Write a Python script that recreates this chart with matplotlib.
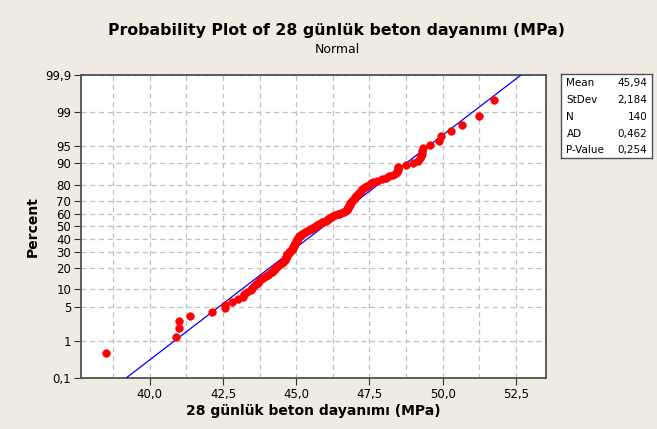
import numpy as np
import matplotlib
matplotlib.use("Agg")
import matplotlib.pyplot as plt
from statistics import NormalDist

# 28-day concrete strength values (MPa), sorted
strength = [
    38.51, 40.90, 40.99, 40.99, 41.38, 42.11, 42.57, 42.57, 42.80, 43.00,
    43.17, 43.23, 43.33, 43.44, 43.50, 43.56, 43.61, 43.68, 43.74, 43.81,
    43.88, 43.97, 44.03, 44.10, 44.17, 44.22, 44.26, 44.29, 44.32, 44.38,
    44.43, 44.50, 44.55, 44.58, 44.62, 44.63, 44.65, 44.66, 44.67, 44.68,
    44.70, 44.74, 44.77, 44.80, 44.84, 44.87, 44.89, 44.90, 44.92, 44.94,
    44.96, 44.97, 44.99, 45.01, 45.03, 45.04, 45.06, 45.08, 45.11, 45.14,
    45.18, 45.21, 45.26, 45.31, 45.37, 45.42, 45.47, 45.52, 45.57, 45.62,
    45.67, 45.72, 45.78, 45.83, 45.88, 45.93, 46.00, 46.05, 46.10, 46.15,
    46.20, 46.27, 46.34, 46.41, 46.47, 46.54, 46.63, 46.68, 46.72, 46.75,
    46.77, 46.78, 46.80, 46.82, 46.83, 46.85, 46.88, 46.92, 46.95, 46.99,
    47.00, 47.01, 47.05, 47.08, 47.12, 47.15, 47.19, 47.22, 47.26, 47.31,
    47.36, 47.43, 47.50, 47.57, 47.63, 47.77, 47.94, 48.08, 48.18, 48.29,
    48.42, 48.45, 48.46, 48.46, 48.46, 48.75, 48.98, 49.17, 49.22, 49.25,
    49.28, 49.30, 49.32, 49.57, 49.86, 49.95, 50.29, 50.66, 51.25, 51.77,
]

mean = 45.94
stdev = 2.184
stat_names = ["Mean", "StDev", "N", "AD", "P-Value"]
stat_values = ["45,94", "2,184", "140", "0,462", "0,254"]

x_ticks = [40.0, 42.5, 45.0, 47.5, 50.0, 52.5]
x_tick_labels = ["40,0", "42,5", "45,0", "47,5", "50,0", "52,5"]
y_ticks = [0.1, 1, 5, 10, 20, 30, 40, 50, 60, 70, 80, 90, 95, 99, 99.9]
y_tick_labels = ["0,1", "1", "5", "10", "20", "30", "40", "50", "60", "70",
                 "80", "90", "95", "99", "99,9"]

nd = NormalDist()
_fwd = np.vectorize(lambda p: nd.inv_cdf(min(max(p / 100.0, 1e-9), 1 - 1e-9)),
                    otypes=[float])
_inv = np.vectorize(lambda z: nd.cdf(z) * 100.0, otypes=[float])


def to_z(p):
    return _fwd(np.asarray(p, dtype=float))


def from_z(z):
    return _inv(np.asarray(z, dtype=float))


n = len(strength)
ranks = np.arange(1, n + 1)
percent = (ranks - 0.3) / (n + 0.4) * 100  # median ranks

bg = "#EFEBE2"
fig = plt.figure(figsize=(6.57, 4.29), dpi=100, facecolor=bg)
ax = fig.add_axes([81 / 657, 1 - 378 / 429, (546 - 81) / 657, (378 - 74.7) / 429])
ax.set_facecolor("white")
ax.set_yscale("function", functions=(to_z, from_z))

xlim = (37.65, 53.53)
ax.set_xlim(*xlim)
ax.set_ylim(0.1, 99.9)

# fitted normal line
xl = np.array(xlim)
ax.plot(xl, from_z((xl - mean) / stdev), color="#0000FF", lw=0.9, zorder=3)

ax.scatter(strength, percent, s=32, color="#FF0000", edgecolors="#FF0000",
           linewidths=0.3, zorder=4, clip_on=False)

ax.set_xticks(x_ticks)
ax.set_xticklabels(x_tick_labels, fontsize=8.5)
ax.set_xticks(np.arange(38.75, 53.5, 1.25), minor=True)
ax.set_yticks(y_ticks)
ax.set_yticklabels(y_tick_labels, fontsize=8.5)
ax.yaxis.set_minor_locator(matplotlib.ticker.NullLocator())
ax.tick_params(axis="x", which="minor", length=0)
ax.tick_params(axis="both", which="major", length=5, color="#333333", pad=2)

ax.grid(True, which="both", axis="x", ls=(0, (4, 3)), color="#C0C0C0", lw=0.9)
ax.grid(True, which="major", axis="y", ls=(0, (4, 3)), color="#C0C0C0", lw=0.9)
ax.set_axisbelow(True)
for s in ax.spines.values():
    s.set_color("#505050")
    s.set_linewidth(1.3)

ax.set_xlabel("28 günlük beton dayanımı (MPa)", fontsize=10, fontweight="bold", labelpad=2)
ax.set_ylabel("Percent", fontsize=10, fontweight="bold", labelpad=4)

fig.text(337 / 657, 1 - 30.7 / 429, "Probability Plot of 28 günlük beton dayanımı (MPa)",
         ha="center", va="center", fontsize=11.3, fontweight="bold")
fig.text(337 / 657, 1 - 49.3 / 429, "Normal", ha="center", va="center", fontsize=9)

# stats box
box = fig.add_axes([561 / 657, 1 - 158 / 429, 91 / 657, 84 / 429])
box.set_xticks([])
box.set_yticks([])
box.set_facecolor("white")
for s in box.spines.values():
    s.set_color("#505050")
    s.set_linewidth(1.0)
for i, (nm, v) in enumerate(zip(stat_names, stat_values)):
    yy = 1 - (i + 0.55) / len(stat_names)
    box.text(0.06, yy, nm, ha="left", va="center", fontsize=7.5, transform=box.transAxes)
    box.text(0.95, yy, v, ha="right", va="center", fontsize=7.5, transform=box.transAxes)

fig.savefig("out.png", dpi=100, facecolor=bg)
